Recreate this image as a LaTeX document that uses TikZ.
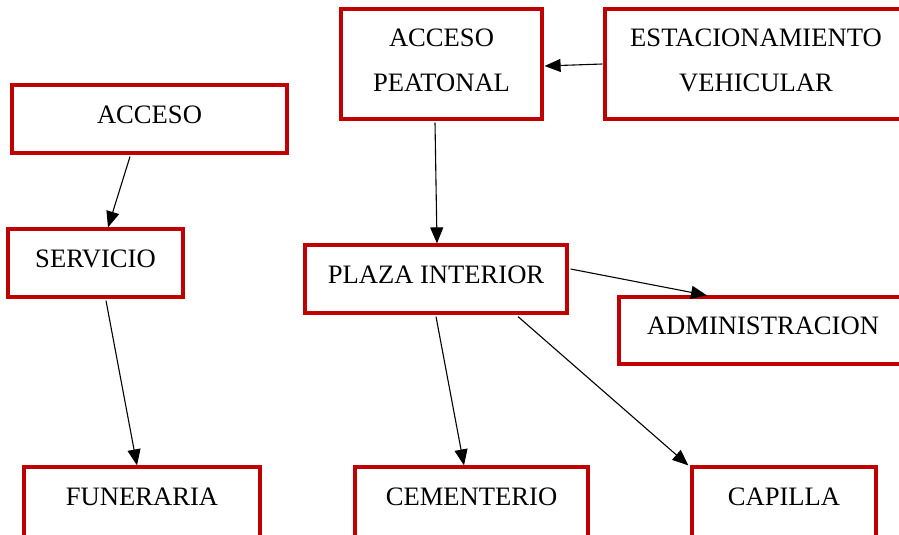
\documentclass[tikz,border=0pt]{standalone}
\usepackage{fontspec}
\setmainfont{Liberation Serif}
\usetikzlibrary{arrows.meta}
\definecolor{boxred}{RGB}{192,0,0}
\tikzset{
  box/.style={draw=boxred, line width=3.2pt, fill=white, rectangle, inner sep=0pt,
    font=\fontsize{26.6}{45}\selectfont, text height=18pt, text depth=10pt},
  lowbox/.style={box, minimum height=76pt, text height=18pt, text depth=18pt},
  twobox/.style={draw=boxred, line width=3.2pt, fill=white, rectangle, inner sep=0pt,
    align=center, font=\fontsize{26.6}{45}\selectfont, minimum height=110pt, text depth=7pt},
  conn/.style={draw=black, line width=1.1pt, -{Triangle[length=16pt,width=13pt]}}
}
\begin{document}
\begin{tikzpicture}[x=1pt,y=-1pt]
\clip (0,0) rectangle (899,535);
\fill[white] (0,0) rectangle (899,535);
\node[box, minimum width=275pt, minimum height=68pt] (acceso) at (149.5,119) {ACCESO};
\node[box, minimum width=175pt, minimum height=68pt] (servicio) at (95.5,263) {SERVICIO};
\node[lowbox, minimum width=236pt] (funeraria) at (142,505) {FUNERARIA};
\node[twobox, minimum width=201pt] (ap) at (441.5,64) {ACCESO\\PEATONAL};
\node[twobox, minimum width=302pt] (est) at (756,64) {ESTACIONAMIENTO\\VEHICULAR};
\node[box, minimum width=262pt, minimum height=68pt] (plaza) at (436,279) {PLAZA INTERIOR};
\node[box, minimum width=288pt, minimum height=67pt] (admin) at (763,330.5) {ADMINISTRACION};
\node[lowbox, minimum width=233pt] (cementerio) at (471.5,505) {CEMENTERIO};
\node[lowbox, minimum width=184pt] (capilla) at (784,505) {CAPILLA};

\draw[conn] ([xshift=-19.5pt,yshift=-2pt]acceso.south) -- ([xshift=12.5pt]servicio.north);
\draw[conn] ([xshift=10.5pt,yshift=-2pt]servicio.south) -- ([xshift=-5pt]funeraria.north);
\draw[conn] ([xshift=-1pt]est.west) -- ([xshift=1pt,yshift=-2pt]ap.east);
\draw[conn] ([xshift=-6.5pt,yshift=-2pt]ap.south) -- ([xshift=1pt]plaza.north);
\draw[conn] ([xshift=2pt,yshift=10pt]plaza.east) -- ([xshift=-56pt]admin.north);
\draw[conn] ([yshift=-2pt]plaza.south) -- ([xshift=-7.5pt]cementerio.north);
\draw[conn] ([xshift=82pt,yshift=-2pt]plaza.south) -- ([xshift=-2pt]capilla.north west);
\end{tikzpicture}
\end{document}
